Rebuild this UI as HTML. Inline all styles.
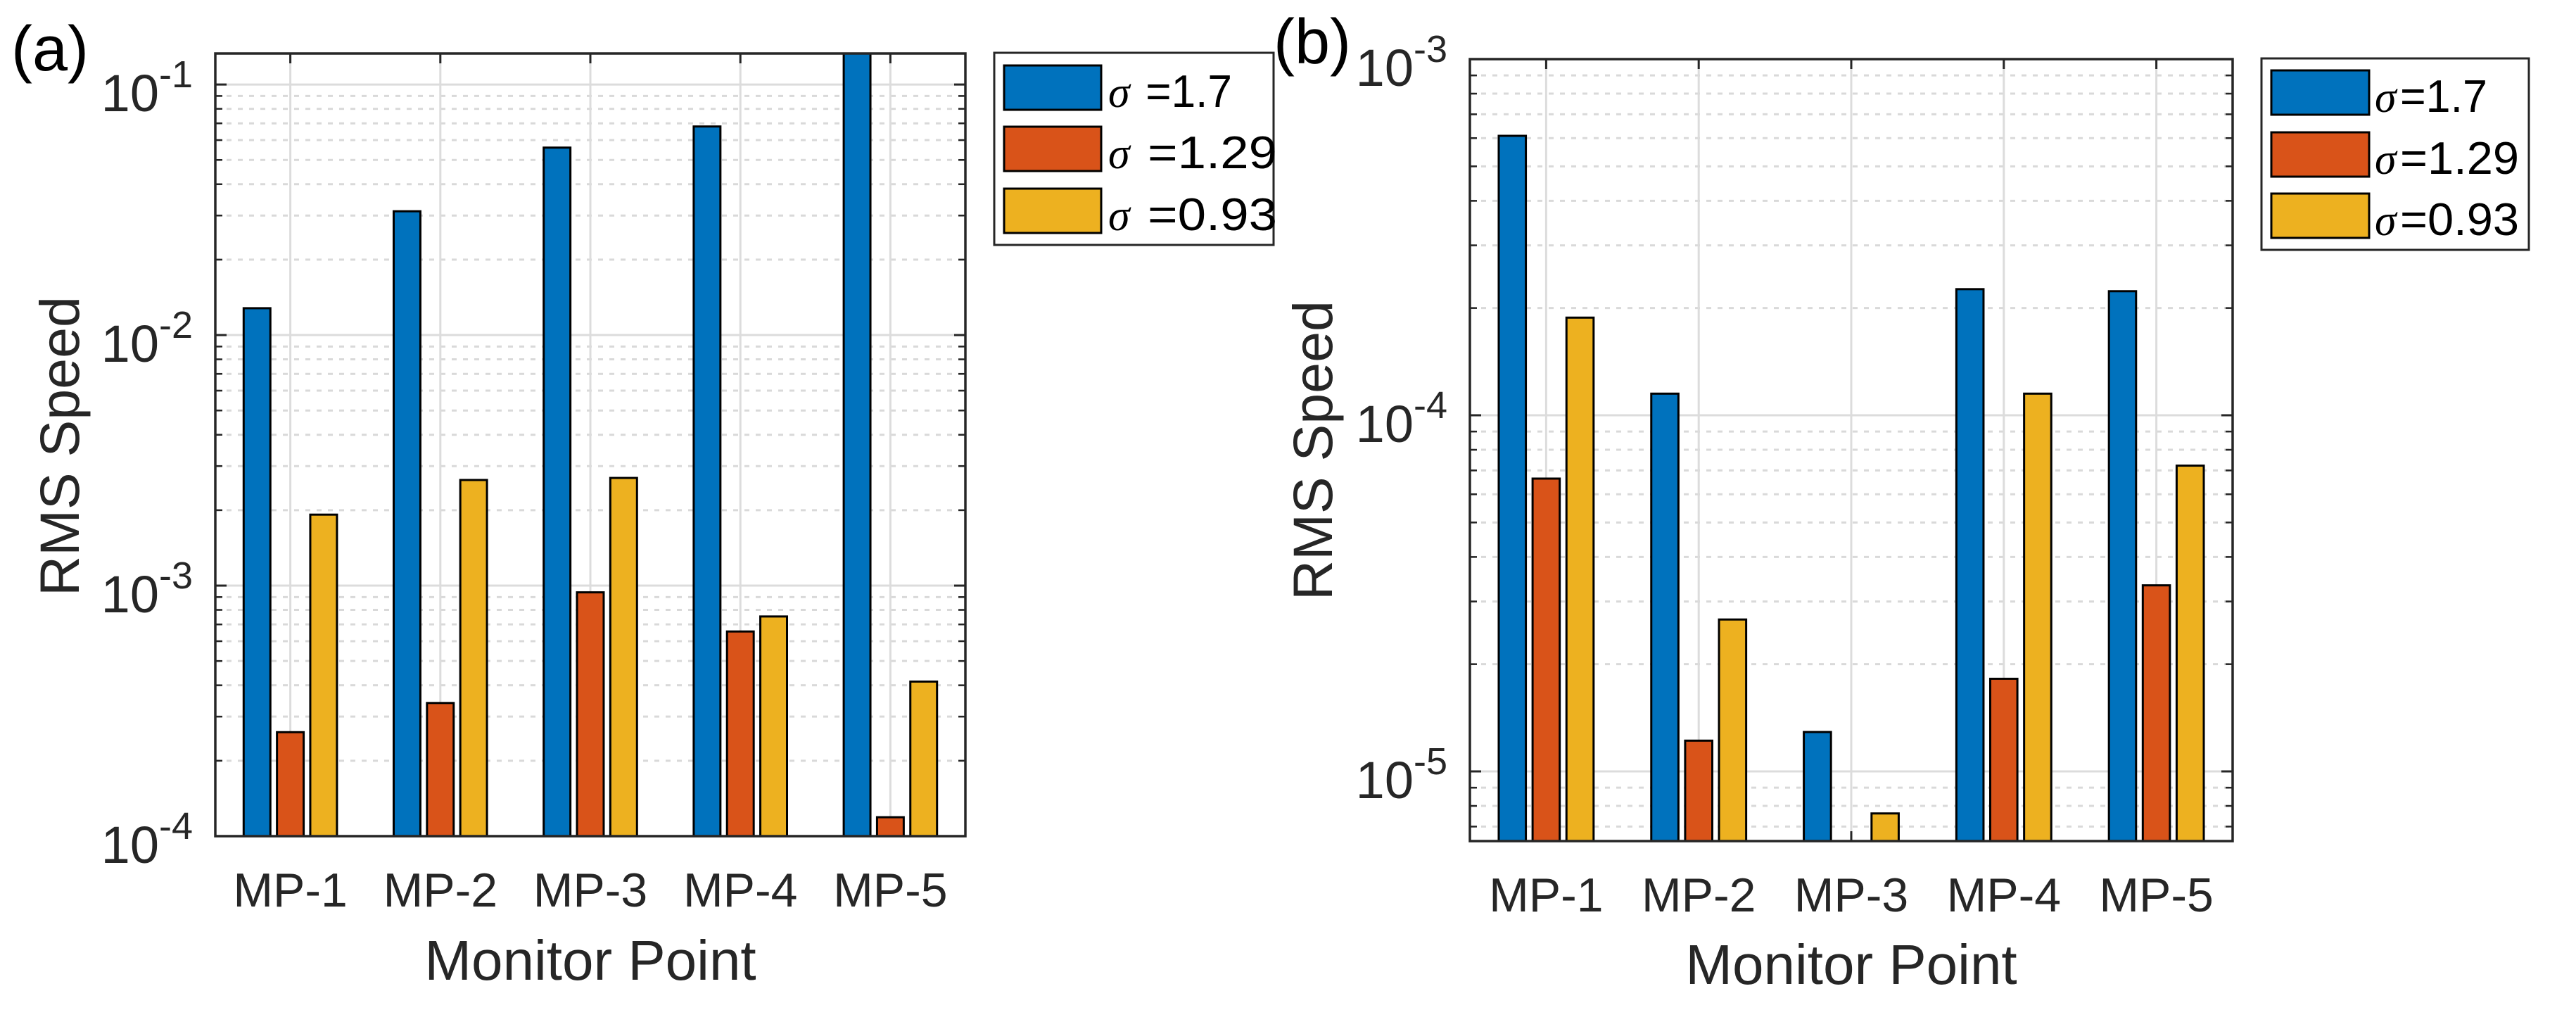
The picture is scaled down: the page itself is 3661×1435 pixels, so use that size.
<!DOCTYPE html>
<html><head><meta charset="utf-8"><style>
html,body{margin:0;padding:0;background:#fff;}
svg{display:block;font-family:"Liberation Sans",sans-serif;}
</style></head><body>
<svg id="fig" width="3661" height="1435" viewBox="0 0 3661 1435" xmlns="http://www.w3.org/2000/svg">
<rect x="0" y="0" width="3661" height="1435" fill="#fff"/>
</svg>
<script>
const categories = ["MP-1","MP-2","MP-3","MP-4","MP-5"];
const seriesLabels = ["\u00a0=1.7","\u00a0=1.29","\u00a0=0.93"];
const seriesLabelsB = ["=1.7","=1.29","=0.93"];
const aSigma17 = [0.0128, 0.0312, 0.056, 0.068, 0.2];
const aSigma129 = [0.00026, 0.00034, 0.00094, 0.000656, 0.000119];
const aSigma093 = [0.00192, 0.00264, 0.00269, 0.000753, 0.000414];
const bSigma17 = [0.000609, 0.000115, 0.0000129, 0.000226, 0.000223];
const bSigma129 = [0.0000664, 0.0000122, 0, 0.0000182, 0.0000333];
const bSigma093 = [0.000188, 0.0000267, 0.00000762, 0.000115, 0.0000722];
const aTickExps = [-4, -3, -2, -1];
const bTickExps = [-5, -4, -3];
const colors = ["#0072BD","#D95319","#EDB120"];

const NS = "http://www.w3.org/2000/svg";
const svg = document.getElementById('fig');
function mk(tag, attrs, parent){
  const e = document.createElementNS(NS, tag);
  for (const k in attrs) e.setAttribute(k, attrs[k]);
  (parent||svg).appendChild(e);
  return e;
}

function panel(cfg){
  const g = mk('g', {});
  
  
  const L=cfg.left,R=cfg.right,T=cfg.top,B=cfg.bottom;
  const yScale = v => B - (Math.log10(v)-cfg.ymin)/(cfg.ymax-cfg.ymin)*(B-T);
  const step = (R-L)/categories.length;
  const xScale = i => L + step*(i+0.5);
  const gridG = mk('g', {}, g);
  
  
  for (let e=Math.floor(cfg.ymin); e<Math.ceil(cfg.ymax); e++){
    for (let m=2;m<=9;m++){
      const v = m*Math.pow(10,e);
      const lv = Math.log10(v);
      if (lv<=cfg.ymin || lv>=cfg.ymax) continue;
      const y = yScale(v);
      mk('line',{x1:L,x2:R,y1:y,y2:y,stroke:'#d9d9d9','stroke-width':3,'stroke-dasharray':'7 9'},gridG);
      mk('line',{x1:L,x2:L+10,y1:y,y2:y,stroke:'#262626','stroke-width':2.5},gridG);
      mk('line',{x1:R,x2:R-10,y1:y,y2:y,stroke:'#262626','stroke-width':2.5},gridG);
    }
  }
  cfg.ticks.forEach(e=>{
    const y = yScale(Math.pow(10,e));
    mk('line',{x1:L,x2:R,y1:y,y2:y,stroke:'#dcdcdc','stroke-width':3},gridG);
    mk('line',{x1:L,x2:L+16,y1:y,y2:y,stroke:'#262626','stroke-width':3},gridG);
    mk('line',{x1:R,x2:R-16,y1:y,y2:y,stroke:'#262626','stroke-width':3},gridG);
    const t = mk('text',{x:L-32,y:y+38,'text-anchor':'end','font-size':74,fill:'#262626'},g);
    
    
    const t1 = mk('tspan',{},t); t1.textContent='10';
    const t2 = mk('tspan',{dy:-34,'font-size':54},t); t2.textContent=String(e);
  });
  categories.forEach((c,i)=>{
    const x = xScale(i);
    mk('line',{x1:x,x2:x,y1:T,y2:B,stroke:'#dcdcdc','stroke-width':3},gridG);
    mk('line',{x1:x,x2:x,y1:T,y2:T+14,stroke:'#262626','stroke-width':3},gridG);
    mk('line',{x1:x,x2:x,y1:B,y2:B-14,stroke:'#262626','stroke-width':3},gridG);
    const t = mk('text',{x:x,y:cfg.tickBase,'text-anchor':'middle','font-size':68,fill:'#262626'},g);
    
    
    t.textContent = c;
  });
  const cid = 'clip-'+cfg.name;
  const defs = mk('defs',{},g);
  const cp = mk('clipPath',{id:cid},defs);
  mk('rect',{x:L,y:T,width:R-L,height:B-T},cp);
  const barsG = mk('g',{'clip-path':'url(#'+cid+')'},g);
  
  
  const off = step*0.222, bw = step*0.178;
  cfg.series.forEach((arr,s)=>{
    arr.forEach((v,i)=>{
      if (!(v>0)) return;
      const cx = xScale(i)+(s-1)*off;
      const y = Math.max(yScale(v), T-20);
      const r = mk('rect',{x:cx-bw/2,y:y,width:bw,height:B+10-y,fill:colors[s],stroke:'#000','stroke-width':3},barsG);
      
      
    });
  });
  const box = mk('rect',{x:L,y:T,width:R-L,height:B-T,fill:'none',stroke:'#262626','stroke-width':3.5},g);
  
  
  const yl = mk('text',{x:0,y:0,transform:'translate('+cfg.ylabX+','+cfg.ylabY+') rotate(-90)','text-anchor':'middle','font-size':79,fill:'#262626'},g);
  
  
  yl.textContent = 'RMS Speed';
  const xl = mk('text',{x:(L+R)/2,y:cfg.xlabBase,'text-anchor':'middle','font-size':80,fill:'#262626'},g);
  
  
  xl.textContent = 'Monitor Point';
  const pl = mk('text',{x:cfg.plx,y:cfg.ply,'font-size':90,fill:'#000'},g);
  
  
  pl.textContent = cfg.panelLabel;
  const lg = mk('g',{},g);
  
  
  const lb = cfg.legend;
  mk('rect',{x:lb.x,y:lb.y,width:lb.w,height:lb.h,fill:'#fff',stroke:'#262626','stroke-width':3},lg);
  cfg.labels.forEach((lab,s)=>{
    const e = mk('g',{},lg);
    
    
    mk('rect',{x:lb.sx,y:lb.rows[s],width:lb.sw,height:lb.sh,fill:colors[s],stroke:'#000','stroke-width':3},e);
    const sg = mk('text',{x:lb.tx,y:lb.rows[s]+lb.sh-4,'font-size':62,'font-style':'italic',fill:'#000','font-family':'"Liberation Serif",serif'},e);
    sg.textContent = '\u03c3';
    const t = mk('text',{x:lb.tx+lb.sigW,y:lb.rows[s]+lb.sh-4,'font-size':65,fill:'#000',textLength:lb.tl[s],lengthAdjust:'spacingAndGlyphs'},e);
    t.textContent = lab;
  });
}

panel({name:'panel-a',left:306,right:1372,top:76,bottom:1188,ymin:-4,ymax:Math.log10(0.133),
  ticks:aTickExps,series:[aSigma17,aSigma129,aSigma093],labels:seriesLabels,
  tickBase:1288,xlabBase:1392,ylabX:112,ylabY:634,plx:16,ply:100,panelLabel:'(a)',
  legend:{x:1413,y:75,w:397,h:273,sx:1427,sw:138,sh:63,rows:[93,180,268],tx:1575,sigW:36,tl:[140,204,204]}});
panel({name:'panel-b',left:2089,right:3173,top:84,bottom:1195,ymin:-3-(1195-84)/506,ymax:-3,
  ticks:bTickExps,series:[bSigma17,bSigma129,bSigma093],labels:seriesLabelsB,
  tickBase:1295,xlabBase:1398,ylabX:1893,ylabY:640,plx:1810,ply:90,panelLabel:'(b)',
  legend:{x:3214,y:83,w:380,h:272,sx:3228,sw:139,sh:63,rows:[100,188,275],tx:3375,sigW:36,tl:[124,169,169]}});
</script>
</body></html>
